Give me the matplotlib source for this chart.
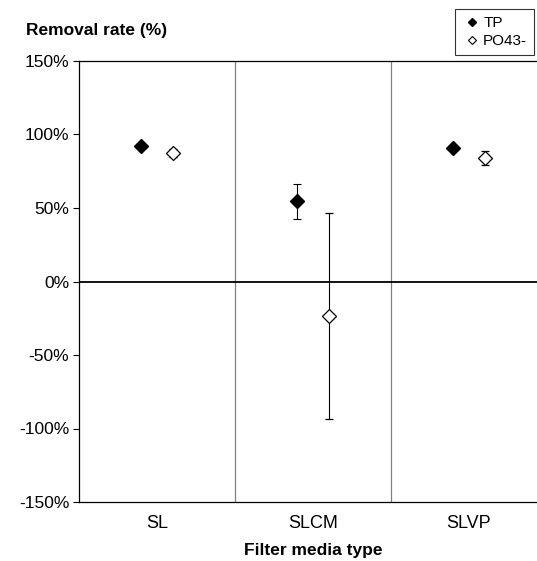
import matplotlib.pyplot as plt
from matplotlib.lines import Line2D

plt.rcParams['font.family'] = ['Liberation Sans', 'DejaVu Sans']

# --- Data ---
categories = ["SL", "SLCM", "SLVP"]
tp_mean = [92.5, 54.5, 91]
tp_err = [1.5, 12, 1.5]
po4_mean = [87.5, -23.5, 84]
po4_err = [2.5, 70, 5]

x = list(range(len(categories)))

fig = plt.figure(figsize=(5.37, 5.61), dpi=100)
ax = fig.add_axes([79 / 537, 1 - 502 / 561, 468 / 537, 441 / 561])

ax.errorbar([i - 0.1 for i in x], tp_mean, yerr=tp_err, fmt="D", color="black",
            markersize=7.5, ecolor="black", elinewidth=0.8, capsize=3, capthick=0.8,
            zorder=3)
ax.errorbar([i + 0.1 for i in x], po4_mean, yerr=po4_err, fmt="D", color="black",
            markerfacecolor="white", markeredgecolor="black", markeredgewidth=0.9,
            markersize=7.3, ecolor="black", elinewidth=0.8, capsize=3, capthick=0.8,
            zorder=3)

ax.set_xlim(-0.5, len(categories) - 0.5)
ax.set_ylim(-150, 150)
ax.set_yticks(range(-150, 151, 50))
ax.set_yticklabels([f"{v}%" for v in range(-150, 151, 50)], fontsize=12.5)
ax.set_xticks(x)
ax.set_xticklabels(categories, fontsize=13)
ax.tick_params(axis="x", length=0, pad=9)
ax.tick_params(axis="y", length=4, direction="out", width=0.8, pad=3)

for b in [0.5, 1.5]:
    ax.axvline(b, color="#808080", linewidth=0.9, zorder=1)
ax.axhline(0, color="black", linewidth=1.3, zorder=2)

for s in ax.spines.values():
    s.set_linewidth(0.9)
    s.set_color("black")

ax.set_xlabel("Filter media type", fontsize=12.5, fontweight="bold", labelpad=8)
fig.text(26 / 537, 1 - 30 / 561, "Removal rate (%)", fontsize=12.5, fontweight="bold",
         va="center", ha="left")

handles = [
    Line2D([], [], marker="D", linestyle="none", color="black", markersize=4.5),
    Line2D([], [], marker="D", linestyle="none", markerfacecolor="white",
           markeredgecolor="black", markeredgewidth=0.8, markersize=4.5),
]
leg = fig.legend(handles, ["TP", "PO43-"], loc="upper right",
                 bbox_to_anchor=(534 / 537, 1 - 9 / 561), fontsize=11,
                 frameon=True, fancybox=False, edgecolor="black",
                 handlelength=1.3, handletextpad=0.1, borderpad=0.45,
                 labelspacing=0.3, borderaxespad=0)
leg.get_frame().set_linewidth(0.8)

fig.savefig("out.png", dpi=100)
